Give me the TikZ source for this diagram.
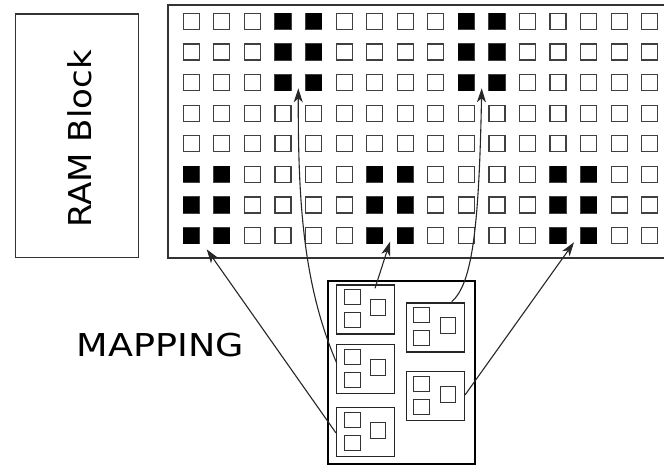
\documentclass[tikz,border=0pt]{standalone}
\usepackage{fontspec}
\setmainfont{DejaVu Sans}
\usetikzlibrary{arrows.meta,calc}
\tikzset{
  frame/.style={draw=black!80, line width=1.3pt},
  cell/.style={draw=black!75, line width=1.2pt, minimum width=16pt, minimum height=16pt, inner sep=0pt, outer sep=0pt},
  memcell/.style={draw=black!80, line width=1.1pt, minimum width=16pt, minimum height=15pt, inner sep=0pt},
  membox/.style={draw=black!85, line width=1.2pt, minimum width=58pt, minimum height=49pt, inner sep=0pt},
  link/.style={draw=black!85, line width=1.1pt, -{Stealth[length=14pt,width=9pt,inset=4pt]}},
  bigtext/.style={font=\fontsize{31.5}{31.5}\selectfont, inner sep=0pt}
}
\begin{document}
\begin{tikzpicture}[x=1pt,y=-1pt]
\useasboundingbox (0,0) rectangle (664,466);
% RAM block
\node[frame, minimum width=122.6pt, minimum height=243.7pt, inner sep=0pt] (ram) at (77,135.85) {};
\node[bigtext, rotate=90] (ramtxt) at (80,139) {\scalebox{1.08}[1]{RAM Block}};
% grid frame
\draw[frame] (664,5) -- (168,5) -- (168,258) -- (664,258);
\foreach \i in {0,...,15} {
  \foreach \j in {0,...,7} {
    \node[cell] (c-\i-\j) at ({191.3+30.56*\i},{21.3+30.6*\j}) {};
  }
}
\foreach \i/\j in {3/0,4/0,9/0,10/0,3/1,4/1,9/1,10/1,3/2,4/2,9/2,10/2,
                   0/5,1/5,6/5,7/5,12/5,13/5,0/6,1/6,6/6,7/6,12/6,13/6,0/7,1/7,6/7,7/7,12/7,13/7} {
  \fill[black] (c-\i-\j.south west) rectangle (c-\i-\j.north east);
}
% MAPPING label
\node[bigtext] (maptxt) at (160.5,344.7) {\scalebox{1.16}[1]{MAPPING}};
% mapping box
\node[draw=black, line width=2.3pt, minimum width=146.7pt, minimum height=183pt, inner sep=0pt] (map) at (401.65,372.5) {};
\foreach \n/\x/\y in {b1/336/284.3, b2/336/343.5, b3/336/407, b4/405.7/302.3, b5/405.7/370.5} {
  \node[membox, anchor=north west] (\n) at (\x,\y) {};
  \node[memcell, anchor=north west] (\n-a) at ($(\x,\y)+(7.5,5)$) {};
  \node[memcell, anchor=north west] (\n-b) at ($(\x,\y)+(7.5,28)$) {};
  \node[memcell, anchor=north west, minimum width=15pt, minimum height=16pt] (\n-c) at ($(\x,\y)+(34,15)$) {};
}
% connector ends
\coordinate (s1) at (336,433);
\coordinate (s2) at (336.7,363);
\coordinate (s3) at (375,288.3);
\coordinate (s4) at (451.7,301.7);
\coordinate (s5) at (465,395);
\coordinate (t1) at (206.7,249.3);
\coordinate (t2) at (298.3,88.3);
\coordinate (t3) at (390,241.7);
\coordinate (t4) at (481.7,88.3);
\coordinate (t5) at (574,242.3);
\draw[link] (s1) -- (t1);
\draw[link] (s2) .. controls (303,285) and (298,200) .. (t2);
\draw[link] (s3) -- (t3);
\draw[link] (s4) .. controls (472,284) and (479,230) .. (t4);
\draw[link] (s5) -- (t5);
\end{tikzpicture}
\end{document}
